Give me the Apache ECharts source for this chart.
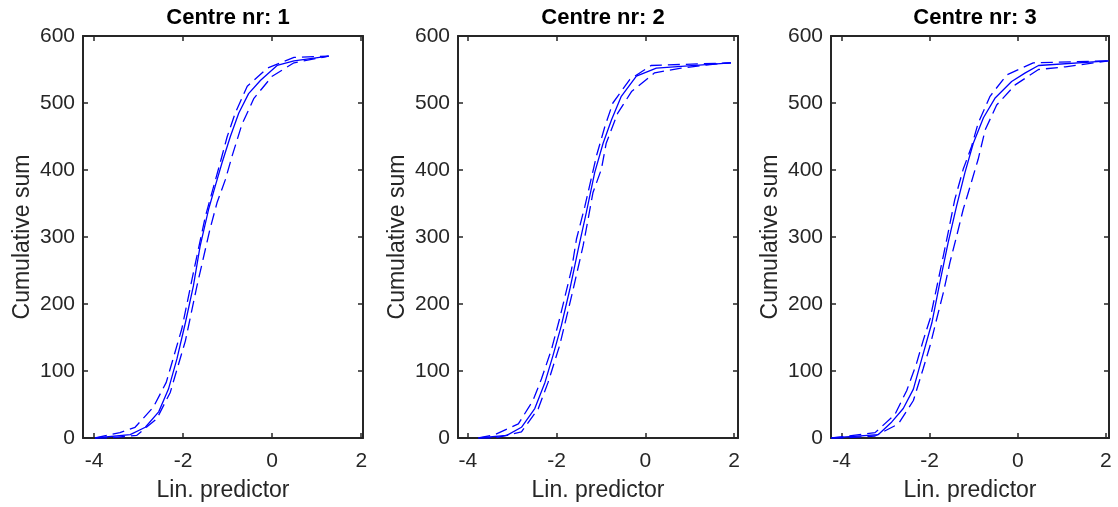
<!DOCTYPE html>
<html>
<head>
<meta charset="utf-8">
<script src="https://cdn.jsdelivr.net/npm/echarts@6/dist/echarts.min.js"></script>
<style>html,body{margin:0;padding:0;background:#fff}#c{width:1118px;height:507px}</style>
</head>
<body>
<div id="c"></div>
<script>
// ---- data ----
var panelTitles = ['Centre nr: 1', 'Centre nr: 2', 'Centre nr: 3'];
var xTickValues = [-4, -2, 0, 2];
var yTickValues = [0, 100, 200, 300, 400, 500, 600];
var xLimits = [[-4.25, 2.04], [-4.22, 2.09], [-4.24, 2.07]];

var centre1Mid = [[-3.98,0],[-3.19,5],[-2.85,16],[-2.55,39],[-2.33,73],[-2.14,118],[-1.95,172],[-1.77,227],[-1.62,286],[-1.43,341],[-1.28,376],[-1.13,410],[-0.94,450],[-0.75,485],[-0.53,514],[-0.26,534],[0.11,556],[0.49,563],[1.27,570]];
var centre1Upper = [[-3.98,0],[-3.42,8],[-3.08,16],[-2.67,46],[-2.38,83],[-2.03,163],[-1.77,247],[-1.50,331],[-1.18,408],[-1.01,450],[-0.83,485],[-0.56,525],[-0.11,552],[0.49,568],[1.27,570]];
var centre1Lower = [[-3.98,0],[-3.64,0],[-3.04,4],[-2.59,29],[-2.29,68],[-1.95,145],[-1.69,227],[-1.40,311],[-1.24,351],[-1.05,386],[-0.90,421],[-0.68,468],[-0.41,507],[0.00,540],[0.49,560],[1.27,570]];

var centre2Mid = [[-3.76,0],[-3.12,4],[-2.79,16],[-2.49,44],[-2.26,83],[-2.08,123],[-1.89,168],[-1.70,222],[-1.51,282],[-1.33,336],[-1.14,396],[-0.95,440],[-0.76,475],[-0.54,510],[-0.20,540],[0.25,552],[1.93,560]];
var centre2Upper = [[-3.76,0],[-3.39,5],[-2.86,21],[-2.53,56],[-2.34,88],[-2.11,133],[-1.93,178],[-1.66,252],[-1.55,297],[-1.36,346],[-1.10,421],[-0.91,465],[-0.73,500],[-0.35,535],[0.13,556],[1.93,560]];
var centre2Lower = [[-3.76,0],[-3.39,0],[-2.79,9],[-2.41,44],[-2.19,83],[-1.93,138],[-1.66,212],[-1.40,287],[-1.29,326],[-1.18,366],[-0.99,401],[-0.88,440],[-0.62,485],[-0.31,517],[0.21,545],[0.81,552],[1.41,557],[1.93,560]];

var centre3Mid = [[-4.23,0],[-3.17,5],[-2.86,24],[-2.60,44],[-2.37,73],[-2.18,118],[-1.95,172],[-1.77,232],[-1.58,292],[-1.39,346],[-1.20,396],[-1.01,440],[-0.78,478],[-0.52,507],[-0.14,532],[0.17,545],[0.47,556],[2.06,563]];
var centre3Upper = [[-4.23,0],[-3.24,8],[-2.79,35],[-2.52,71],[-2.30,111],[-2.15,145],[-1.99,178],[-1.84,225],[-1.69,272],[-1.58,307],[-1.43,356],[-1.24,401],[-1.05,435],[-0.90,470],[-0.63,510],[-0.25,542],[0.35,560],[2.06,563]];
var centre3Lower = [[-4.23,0],[-3.93,0],[-3.24,3],[-2.71,21],[-2.37,56],[-2.15,103],[-1.99,138],[-1.84,178],[-1.69,217],[-1.54,262],[-1.39,301],[-1.24,341],[-1.08,376],[-0.90,416],[-0.74,460],[-0.48,497],[-0.06,527],[0.47,550],[1.08,554],[2.06,563]];

var panelSeries = [
  [centre1Mid, centre1Upper, centre1Lower],
  [centre2Mid, centre2Upper, centre2Lower],
  [centre3Mid, centre3Upper, centre3Lower]
];

// ---- layout ----
var grids = [
  {left: 83, top: 36, width: 280, height: 404},
  {left: 458, top: 36, width: 280, height: 404},
  {left: 831, top: 36, width: 278, height: 404}
];
var axisColor = '#262626';
var fontFam = 'Liberation Sans, Arial, Helvetica, sans-serif';

var option = {
  animation: false,
  backgroundColor: '#ffffff',
  title: [], grid: [], xAxis: [], yAxis: [], series: []
};

grids.forEach(function (g, i) {
  option.grid.push({left: g.left, top: g.top, width: g.width, height: g.height, containLabel: false});
  option.title.push({
    text: panelTitles[i],
    left: g.left + g.width / 2,
    top: 2,
    textAlign: 'center',
    textStyle: {fontFamily: fontFam, fontWeight: 'bold', fontSize: 22, color: '#000000'}
  });
  var lineSty = {show: true, onZero: false, lineStyle: {color: axisColor, width: 2}};
  var tickSty = {color: axisColor, width: 1.5};
  option.xAxis.push({
    type: 'value', gridIndex: i, position: 'bottom',
    min: xLimits[i][0], max: xLimits[i][1],
    name: 'Lin. predictor', nameLocation: 'middle', nameGap: 41,
    nameTextStyle: {fontFamily: fontFam, fontSize: 23, color: axisColor},
    axisLine: lineSty,
    axisTick: {show: true, inside: true, length: 5, customValues: xTickValues, lineStyle: tickSty},
    axisLabel: {show: true, customValues: xTickValues, fontFamily: fontFam, fontSize: 21, color: axisColor, margin: 13},
    splitLine: {show: false}
  });
  option.xAxis.push({
    type: 'value', gridIndex: i, position: 'top',
    min: xLimits[i][0], max: xLimits[i][1],
    axisLine: lineSty,
    axisTick: {show: true, inside: true, length: 5, customValues: xTickValues, lineStyle: tickSty},
    axisLabel: {show: false},
    splitLine: {show: false}
  });
  option.yAxis.push({
    type: 'value', gridIndex: i, position: 'left',
    min: 0, max: 600, interval: 100,
    name: 'Cumulative sum', nameLocation: 'middle', nameGap: 49,
    nameTextStyle: {fontFamily: fontFam, fontSize: 23, color: axisColor},
    axisLine: lineSty,
    axisTick: {show: true, inside: true, length: 5, lineStyle: tickSty},
    axisLabel: {show: true, fontFamily: fontFam, fontSize: 21, color: axisColor, margin: 8},
    splitLine: {show: false}
  });
  option.yAxis.push({
    type: 'value', gridIndex: i, position: 'right',
    min: 0, max: 600, interval: 100,
    axisLine: lineSty,
    axisTick: {show: true, inside: true, length: 5, lineStyle: tickSty},
    axisLabel: {show: false},
    splitLine: {show: false}
  });
  panelSeries[i].forEach(function (d, k) {
    option.series.push({
      type: 'line', xAxisIndex: 2 * i, yAxisIndex: 2 * i,
      data: d, showSymbol: false, symbol: 'none', smooth: false, clip: true,
      lineStyle: {color: '#0000ff', width: 1.3, type: k === 0 ? 'solid' : [12, 6]},
      z: 3
    });
  });
});

var chart = echarts.init(document.getElementById('c'), null, {renderer: 'canvas'});
chart.setOption(option);
</script>
</body>
</html>
